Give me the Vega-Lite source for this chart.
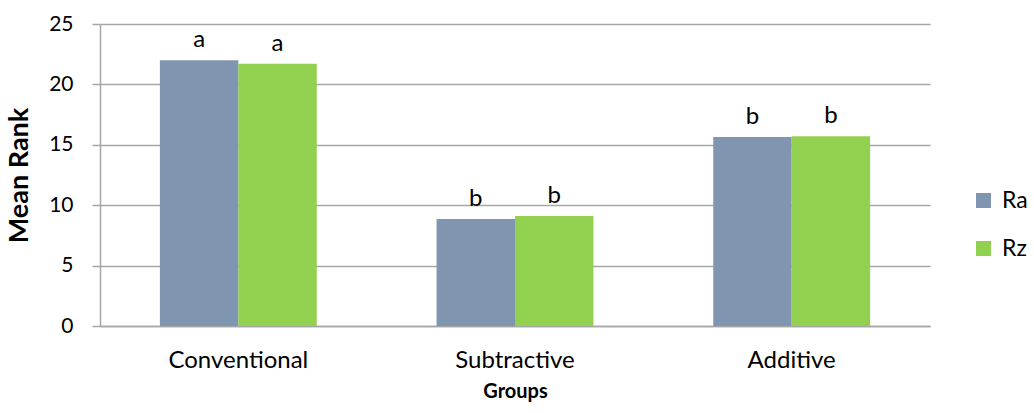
{
  "$schema": "https://vega.github.io/schema/vega-lite/v6.json",
  "autosize": {"type": "none"},
  "padding": {"left": 100, "top": 24, "right": 104, "bottom": 87},
  "width": 830,
  "height": 302,
  "background": "white",
  "config": {
    "view": {"stroke": null},
    "font": "Lato"
  },
  "data": {
    "values": [
      {"group": "Conventional", "series": "Ra", "value": 22.0, "letter": "a"},
      {"group": "Conventional", "series": "Rz", "value": 21.7, "letter": "a"},
      {"group": "Subtractive", "series": "Ra", "value": 8.85, "letter": "b"},
      {"group": "Subtractive", "series": "Rz", "value": 9.1, "letter": "b"},
      {"group": "Additive", "series": "Ra", "value": 15.65, "letter": "b"},
      {"group": "Additive", "series": "Rz", "value": 15.7, "letter": "b"}
    ]
  },
  "encoding": {
    "x": {
      "field": "group",
      "type": "nominal",
      "sort": ["Conventional", "Subtractive", "Additive"],
      "scale": {"paddingInner": 0.433, "paddingOuter": 0.2165},
      "axis": {
        "title": "Groups",
        "titleFontSize": 20,
        "titleFontWeight": "bold",
        "titleColor": "#000000",
        "titlePadding": 9,
        "labelAngle": 0,
        "labelFontSize": 24,
        "labelColor": "#000000",
        "labelPadding": 22,
        "ticks": false,
        "domainColor": "#A6A6A6",
        "domainWidth": 1.5
      }
    },
    "xOffset": {"field": "series", "type": "nominal", "sort": ["Ra", "Rz"]},
    "y": {
      "field": "value",
      "type": "quantitative",
      "scale": {"domain": [0, 25], "nice": false},
      "axis": {
        "title": "Mean Rank",
        "titleFontSize": 27,
        "titleFontWeight": "bold",
        "titleColor": "#000000",
        "titlePadding": 15,
        "values": [0, 5, 10, 15, 20, 25],
        "labelFontSize": 21,
        "labelColor": "#000000",
        "labelPadding": 19,
        "tickSize": 8,
        "tickColor": "#A6A6A6",
        "tickWidth": 1.5,
        "gridColor": "#A6A6A6",
        "gridWidth": 1.5,
        "domainColor": "#A6A6A6",
        "domainWidth": 1.5
      }
    }
  },
  "layer": [
    {
      "mark": {"type": "bar"},
      "encoding": {
        "color": {
          "field": "series",
          "type": "nominal",
          "scale": {"domain": ["Ra", "Rz"], "range": ["#8096B0", "#92D050"]},
          "legend": {
            "title": null,
            "orient": "none",
            "legendX": 872,
            "legendY": 165,
            "symbolType": "square",
            "symbolSize": 225,
            "symbolStrokeWidth": 0,
            "labelFontSize": 23,
            "labelColor": "#000000",
            "rowPadding": 24,
            "labelOffset": 7
          }
        }
      }
    },
    {
      "mark": {"type": "text", "baseline": "alphabetic", "dy": -13, "fontSize": 24, "color": "#000000"},
      "encoding": {
        "text": {"field": "letter"}
      }
    }
  ]
}
